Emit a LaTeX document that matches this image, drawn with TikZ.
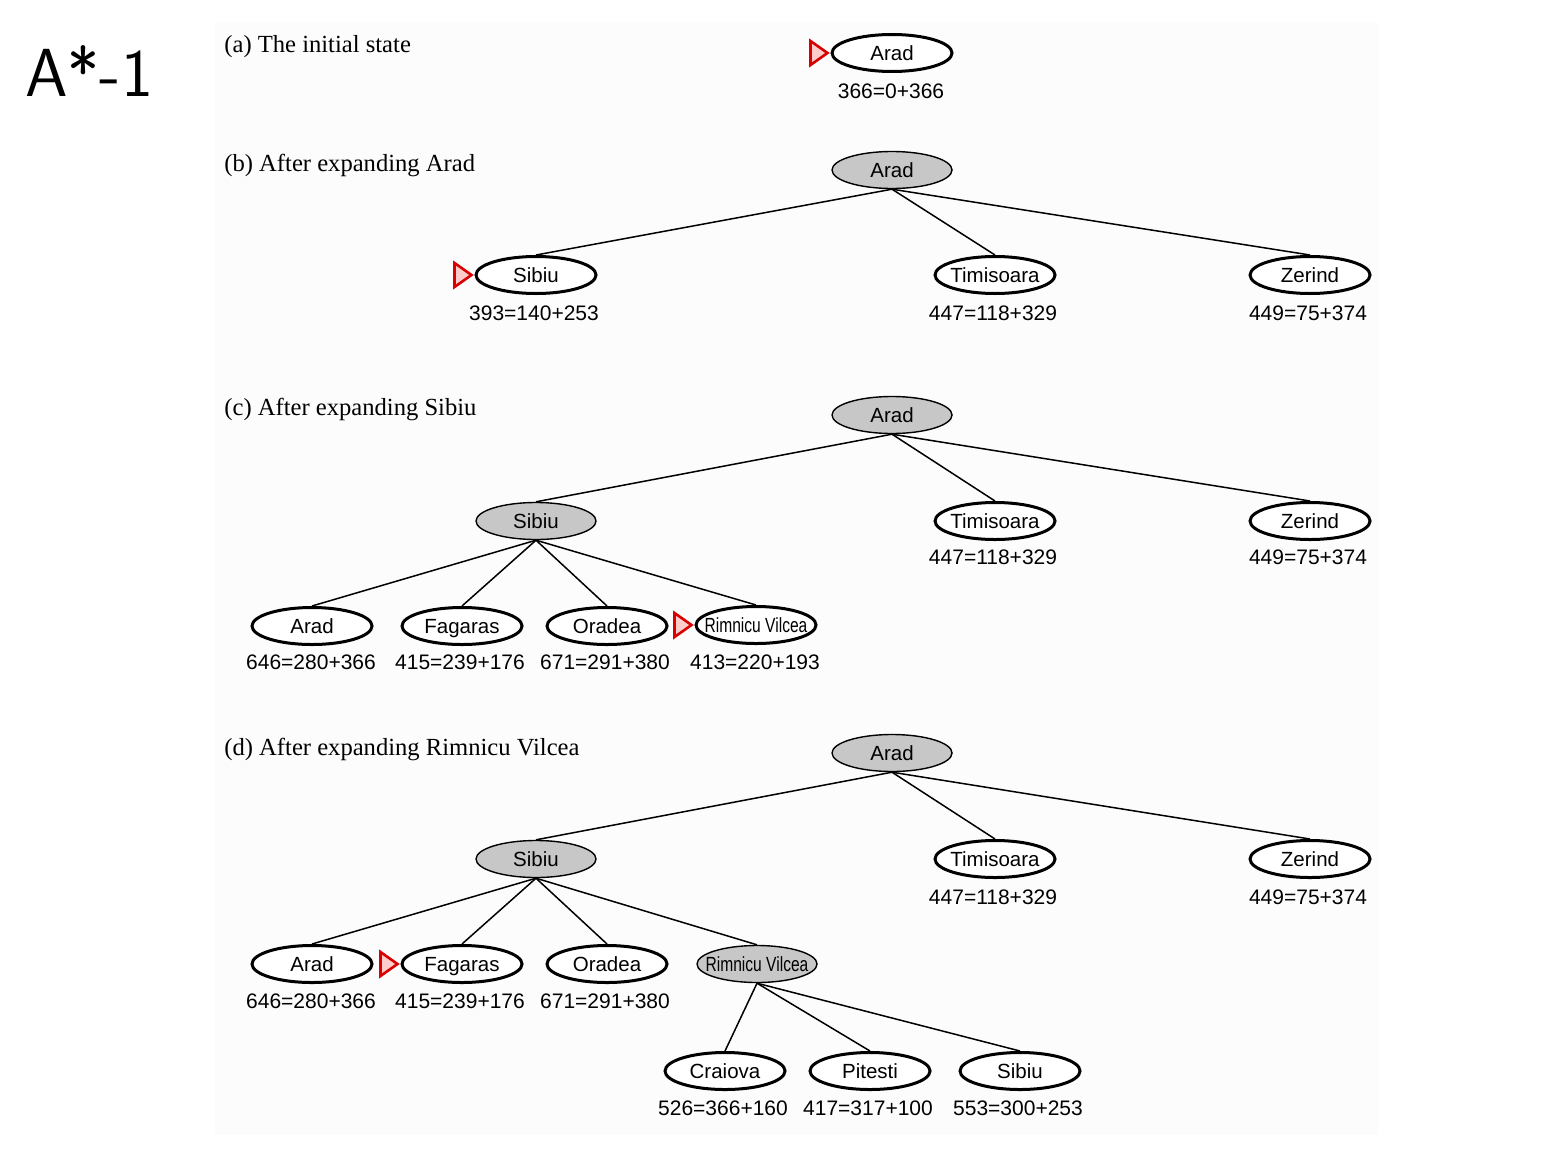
\documentclass[tikz,border=0pt]{standalone}
\usepackage{fontspec}
\usepackage{graphicx}
\setmainfont{Liberation Serif}
\newfontfamily\arial{Liberation Sans}
\usetikzlibrary{shapes.geometric}

\tikzset{
  tree/.style={ellipse, minimum width=60pt, minimum height=18.5pt, inner sep=0pt,
               text height=7.4pt, text depth=0pt,
               font=\arial\fontsize{10.25pt}{12pt}\selectfont},
  open/.style={tree, draw=black, line width=1.5pt, fill=white},
  closed/.style={tree, draw=black, line width=0.7pt, fill=black!22},
  fval/.style={inner sep=0pt, font=\arial\fontsize{10.5pt}{12pt}\selectfont},
  caption/.style={anchor=base west, inner sep=0pt, font=\fontsize{12.3pt}{14pt}\selectfont},
  edge/.style={draw=black, line width=0.75pt},
  marker/.style={draw=red!85!black, line width=1.3pt, fill=red!20, line join=miter}
}
% city names keep a fixed box so every ellipse has the same size
\newcommand{\nm}[1]{\makebox[38pt]{#1}}
\newcommand{\rv}{\nm{\scalebox{0.76}[1]{Rimnicu Vilcea}}}
% red arrowhead in front of the node that is expanded next
\newcommand{\nextmark}[1]{\draw[marker] ([xshift=-1.5pt]#1.west) -- ++(-17,-12) -- ++(0,24) -- cycle;}

\begin{document}
\begin{tikzpicture}[x=0.5pt, y=-0.5pt]
\useasboundingbox (0,0) rectangle (1550,1156);
\fill[black!1] (215,22) rectangle (1378,1135);

\node[anchor=base west, inner sep=0pt, font=\sffamily\fontsize{34pt}{36pt}\selectfont] (title) at (25,97) {A*-1};

% (a) the initial state
\node[caption] (capa) at (224,53) {(a) The initial state};
\node[open] (a1) at (892,53) {\nm{Arad}};
\node[fval] (a1f) at (891,91) {366=0+366};
\nextmark{a1}

% (b) after expanding Arad
\node[caption] (capb) at (224,171) {(b) After expanding Arad};
\node[closed] (b1) at (892,170) {\nm{Arad}};
\node[open] (b2) at (536,275) {\nm{Sibiu}};
\node[open] (b3) at (995,275) {\nm{Timisoara}};
\node[open] (b4) at (1310,275) {\nm{Zerind}};
\node[fval] (b2f) at (534,313) {393=140+253};
\node[fval] (b3f) at (993,313) {447=118+329};
\node[fval] (b4f) at (1308,313) {449=75+374};
\foreach \c in {b2,b3,b4} \draw[edge] (b1.south) -- (\c.north);
\nextmark{b2}

% (c) after expanding Sibiu
\node[caption] (capc) at (224,415) {(c) After expanding Sibiu};
\node[closed] (c1) at (892,415) {\nm{Arad}};
\node[closed] (c2) at (536,521) {\nm{Sibiu}};
\node[open] (c3) at (995,521) {\nm{Timisoara}};
\node[open] (c4) at (1310,521) {\nm{Zerind}};
\node[fval] (c3f) at (993,557) {447=118+329};
\node[fval] (c4f) at (1308,557) {449=75+374};
\node[open] (c5) at (312,626) {\nm{Arad}};
\node[open] (c6) at (462,626) {\nm{Fagaras}};
\node[open] (c7) at (607,626) {\nm{Oradea}};
\node[open] (c8) at (756,625) {\rv};
\node[fval] (c5f) at (311,662) {646=280+366};
\node[fval] (c6f) at (460,662) {415=239+176};
\node[fval] (c7f) at (605,662) {671=291+380};
\node[fval] (c8f) at (755,662) {413=220+193};
\foreach \c in {c2,c3,c4} \draw[edge] (c1.south) -- (\c.north);
\foreach \c in {c5,c6,c7,c8} \draw[edge] (c2.south) -- (\c.north);
\nextmark{c8}

% (d) after expanding Rimnicu Vilcea
\node[caption] (capd) at (224,755) {(d) After expanding Rimnicu Vilcea};
\node[closed] (d1) at (892,753) {\nm{Arad}};
\node[closed] (d2) at (536,859) {\nm{Sibiu}};
\node[open] (d3) at (995,859) {\nm{Timisoara}};
\node[open] (d4) at (1310,859) {\nm{Zerind}};
\node[fval] (d3f) at (993,897) {447=118+329};
\node[fval] (d4f) at (1308,897) {449=75+374};
\node[open] (d5) at (312,964) {\nm{Arad}};
\node[open] (d6) at (462,964) {\nm{Fagaras}};
\node[open] (d7) at (607,964) {\nm{Oradea}};
\node[closed] (d8) at (757,964) {\rv};
\node[fval] (d5f) at (311,1001) {646=280+366};
\node[fval] (d6f) at (460,1001) {415=239+176};
\node[fval] (d7f) at (605,1001) {671=291+380};
\node[open] (d9) at (725,1071) {\nm{Craiova}};
\node[open] (d10) at (870,1071) {\nm{Pitesti}};
\node[open] (d11) at (1020,1071) {\nm{Sibiu}};
\node[fval] (d9f) at (723,1108) {526=366+160};
\node[fval] (d10f) at (868,1108) {417=317+100};
\node[fval] (d11f) at (1018,1108) {553=300+253};
\foreach \c in {d2,d3,d4} \draw[edge] (d1.south) -- (\c.north);
\foreach \c in {d5,d6,d7,d8} \draw[edge] (d2.south) -- (\c.north);
\foreach \c in {d9,d10,d11} \draw[edge] (d8.south) -- (\c.north);
\nextmark{d6}
\end{tikzpicture}
\end{document}
